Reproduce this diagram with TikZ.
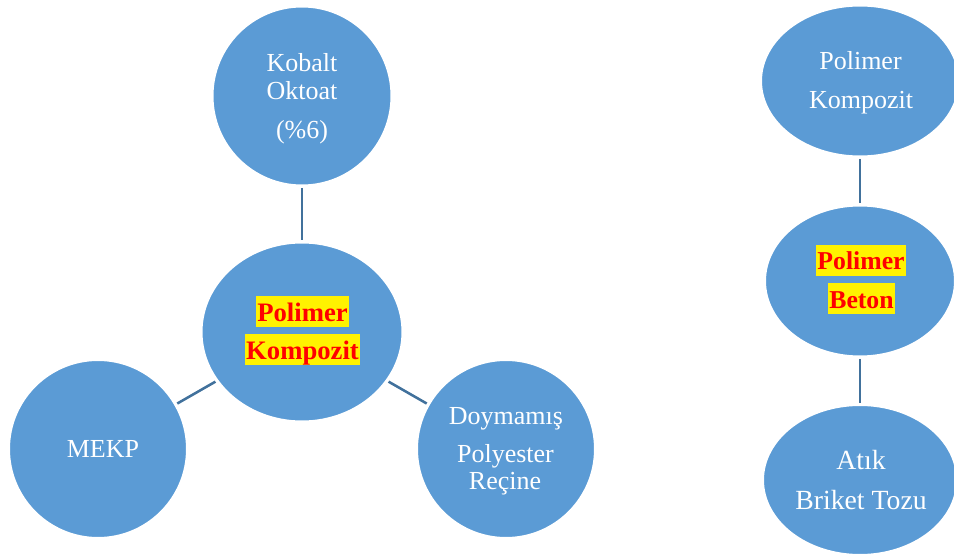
\documentclass[tikz,border=0pt]{standalone}
\usepackage{fontspec}
\setmainfont{Liberation Serif}
\usetikzlibrary{shapes.geometric}
\definecolor{bubblefill}{HTML}{5B9BD5}
\definecolor{linkcol}{HTML}{41719C}
\begin{document}
\begin{tikzpicture}[x=0.75pt,y=-0.75pt,
  bubble/.style={circle, fill=bubblefill, draw=white, line width=1.5pt, inner sep=0pt, outer sep=0pt},
  oval/.style={ellipse, fill=bubblefill, draw=white, line width=1.5pt, inner sep=0pt, outer sep=0pt},
  wtext/.style={text=white, inner sep=0pt, anchor=base, font=\fontsize{19.5pt}{23pt}\selectfont},
  hl/.style={fill=yellow, text=red, inner xsep=1pt, inner ysep=0pt, anchor=base, text height=19pt, text depth=4.8pt, font=\bfseries\fontsize{20pt}{24pt}\selectfont},
  link/.style={draw=linkcol, line width=1.9pt, shorten <=1.8pt, shorten >=1.8pt}]
\useasboundingbox (0,0) rectangle (954,556);
\clip (0,0) rectangle (954,556);

% left group
\node[bubble, minimum size=134.25pt] (kob) at (302,96) {};
\node[oval, minimum width=150.75pt, minimum height=134.25pt] (pk) at (302,332) {};
\node[bubble, minimum size=133.5pt] (mekp) at (98,449) {};
\node[bubble, minimum size=133.5pt] (doy) at (506,449) {};

% right group
\node[oval, minimum width=148.5pt, minimum height=113.25pt] (rpk) at (860,81) {};
\node[oval, minimum width=142.5pt, minimum height=113.25pt] (pb) at (860,281) {};
\node[oval, minimum width=145.5pt, minimum height=112.5pt] (atik) at (860,480) {};

% connectors
\draw[link] (kob) -- (pk);
\draw[link] (pk) -- (mekp);
\draw[link] (pk) -- (doy);
\draw[link] (rpk) -- (pb);
\draw[link] (pb) -- (atik);

% texts
\node[wtext] (kobA) at (302,72) {Kobalt};
\node[wtext] (kobB) at (302,100) {Oktoat};
\node[wtext] (kobC) at (302,139) {(\%6)};

\node[hl] (pkA) at (302.5,321) {Polimer};
\node[hl] (pkB) at (302.5,359) {Kompozit};

\node[wtext] (mekpA) at (103,457) {MEKP};

\node[wtext] (doyA) at (506,424) {Doymamış};
\node[wtext] (doyB) at (505.5,462) {Polyester};
\node[wtext] (doyC) at (505,489) {Reçine};

\node[wtext] (rpkA) at (860.5,70) {Polimer};
\node[wtext] (rpkB) at (861,108.5) {Kompozit};

\node[hl, font=\bfseries\fontsize{19.3pt}{23pt}\selectfont] (pbA) at (861,270) {Polimer};
\node[hl, font=\bfseries\fontsize{19.3pt}{23pt}\selectfont] (pbB) at (861.5,308) {Beton};

\node[wtext, font=\fontsize{20.8pt}{24pt}\selectfont] (atikA) at (861,469) {Atık};
\node[wtext, font=\fontsize{20.8pt}{24pt}\selectfont] (atikB) at (861,509) {Briket Tozu};
\end{tikzpicture}
\end{document}
